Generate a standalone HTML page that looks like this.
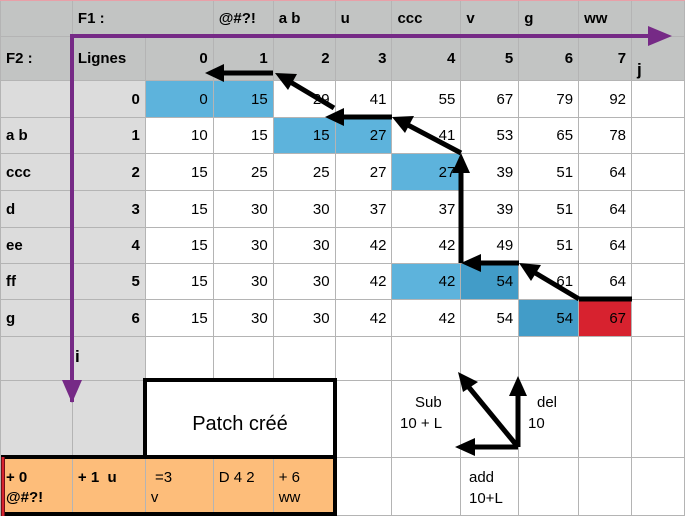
<!DOCTYPE html>
<html><head><meta charset="utf-8"><style>
body{margin:0;width:685px;height:516px;overflow:hidden;background:#fff;font-family:"Liberation Sans",sans-serif;}
table{position:absolute;left:0;top:0;border-collapse:collapse;table-layout:fixed;}
td{border:1px solid #b4b4b4;padding:0 5px;font-size:15px;text-align:right;overflow:hidden;white-space:nowrap;}
.h{background:#c2c4c3;font-weight:bold;text-align:left;}
.hr{background:#c2c4c3;font-weight:bold;}
.l{background:#dcdcdc;font-weight:bold;text-align:left;}
.lr{background:#dcdcdc;font-weight:bold;}
.b{background:#5db3dc;}
.d{background:#429cc8;}
.r{background:#d7222f;}
.o{background:#fdbd7a;text-align:left;vertical-align:top;padding-top:10px;line-height:20px;}
svg{position:absolute;left:0;top:0;}
</style></head><body>
<table>
<colgroup><col style="width:72px"><col style="width:73px"><col style="width:68px"><col style="width:60px"><col style="width:62px"><col style="width:57px"><col style="width:69px"><col style="width:58px"><col style="width:60px"><col style="width:53px"><col style="width:53px"></colgroup>
<tr style="height:36px"><td class="h"></td><td class="h" colspan="2">F1 :</td><td class="h">@#?!</td><td class="h">a b</td><td class="h">u</td><td class="h">ccc</td><td class="h">v</td><td class="h">g</td><td class="h">ww</td><td class="h"></td></tr>
<tr style="height:44px"><td class="h">F2 :</td><td class="h">Lignes</td><td class="hr">0</td><td class="hr">1</td><td class="hr">2</td><td class="hr">3</td><td class="hr">4</td><td class="hr">5</td><td class="hr">6</td><td class="hr">7</td><td class="h" style="vertical-align:bottom;font-size:17px">j</td></tr>
<tr style="height:37px"><td class="l"></td><td class="lr">0</td><td class="b">0</td><td class="b">15</td><td>29</td><td>41</td><td>55</td><td>67</td><td>79</td><td>92</td><td></td></tr>
<tr style="height:36px"><td class="l">a b</td><td class="lr">1</td><td>10</td><td>15</td><td class="b">15</td><td class="b">27</td><td>41</td><td>53</td><td>65</td><td>78</td><td></td></tr>
<tr style="height:37px"><td class="l">ccc</td><td class="lr">2</td><td>15</td><td>25</td><td>25</td><td>27</td><td class="b">27</td><td>39</td><td>51</td><td>64</td><td></td></tr>
<tr style="height:37px"><td class="l">d</td><td class="lr">3</td><td>15</td><td>30</td><td>30</td><td>37</td><td>37</td><td>39</td><td>51</td><td>64</td><td></td></tr>
<tr style="height:36px"><td class="l">ee</td><td class="lr">4</td><td>15</td><td>30</td><td>30</td><td>42</td><td>42</td><td>49</td><td>51</td><td>64</td><td></td></tr>
<tr style="height:36px"><td class="l">ff</td><td class="lr">5</td><td>15</td><td>30</td><td>30</td><td>42</td><td class="b">42</td><td class="d">54</td><td>61</td><td>64</td><td></td></tr>
<tr style="height:37px"><td class="l">g</td><td class="lr">6</td><td>15</td><td>30</td><td>30</td><td>42</td><td>42</td><td>54</td><td class="d">54</td><td class="r">67</td><td></td></tr>
<tr style="height:44px"><td class="l"></td><td class="l"></td><td></td><td></td><td></td><td></td><td></td><td></td><td></td><td></td><td></td></tr>
<tr style="height:77px"><td class="l"></td><td class="l"></td><td colspan="3"></td><td></td><td></td><td></td><td></td><td></td><td></td></tr>
<tr style="height:58px"><td class="o" style="font-weight:bold">+ 0<br>@#?!</td><td class="o" style="font-weight:bold">+ 1&nbsp; u</td><td class="o">&nbsp;=3<br>v</td><td class="o">D 4 2</td><td class="o">+ 6<br>ww</td><td></td><td></td><td></td><td></td><td></td><td></td></tr>
</table>
<svg width="685" height="516" viewBox="0 0 685 516">
<line x1="0" y1="0.5" x2="685" y2="0.5" stroke="#e8a0a8" stroke-width="1"/>
<polyline points="72,402 72,36 650,36" fill="none" stroke="#762a86" stroke-width="4"/>
<polygon points="648,26 672,36 648,46" fill="#762a86"/>
<polygon points="62,380 82,380 72,403" fill="#762a86"/>
<text x="75" y="362" font-size="17" font-weight="bold" font-family="Liberation Sans">i</text>
<g stroke="#000" stroke-width="5" fill="none">
<line x1="273" y1="73" x2="222" y2="73"/>
<line x1="334" y1="108" x2="287" y2="80"/>
<line x1="392" y1="117" x2="340" y2="117"/>
<line x1="461" y1="153" x2="406" y2="124"/>
<line x1="461" y1="263" x2="461" y2="170"/>
<line x1="519" y1="263" x2="478" y2="263"/>
<line x1="579" y1="299" x2="532" y2="271"/>
<line x1="579" y1="299" x2="632" y2="299"/>
<line x1="518" y1="447" x2="518" y2="392"/>
<line x1="518" y1="447" x2="467" y2="385"/>
<line x1="518" y1="447" x2="472" y2="447"/>
</g>
<g fill="#000">
<polygon points="205,73 224,64 224,82"/>
<polygon points="275,73 297,74 288,90"/>
<polygon points="325,117 344,108 344,126"/>
<polygon points="392,117 414,116 405,133"/>
<polygon points="461,153 452,173 470,173"/>
<polygon points="461,263 481,254 481,272"/>
<polygon points="519,263 541,265 531,281"/>
<polygon points="458,372 478,382 463,392"/>
<polygon points="518,376 509,396 527,396"/>
<polygon points="455,447 475,438 475,456"/>
</g>
<rect x="145" y="380" width="190" height="77" fill="#fff" stroke="#000" stroke-width="4"/>
<text x="240" y="430" font-size="20" text-anchor="middle" font-family="Liberation Sans">Patch créé</text>
<rect x="3" y="457" width="332" height="57" fill="none" stroke="#000" stroke-width="4"/>
<line x1="3" y1="457" x2="3" y2="516" stroke="#d7222f" stroke-width="3"/>
<g font-size="15" font-family="Liberation Sans">
<text x="415" y="407">Sub</text>
<text x="400" y="428">10 + L</text>
<text x="537" y="407">del</text>
<text x="528" y="428">10</text>
<text x="469" y="482">add</text>
<text x="469" y="503">10+L</text>
</g>
</svg>
</body></html>
